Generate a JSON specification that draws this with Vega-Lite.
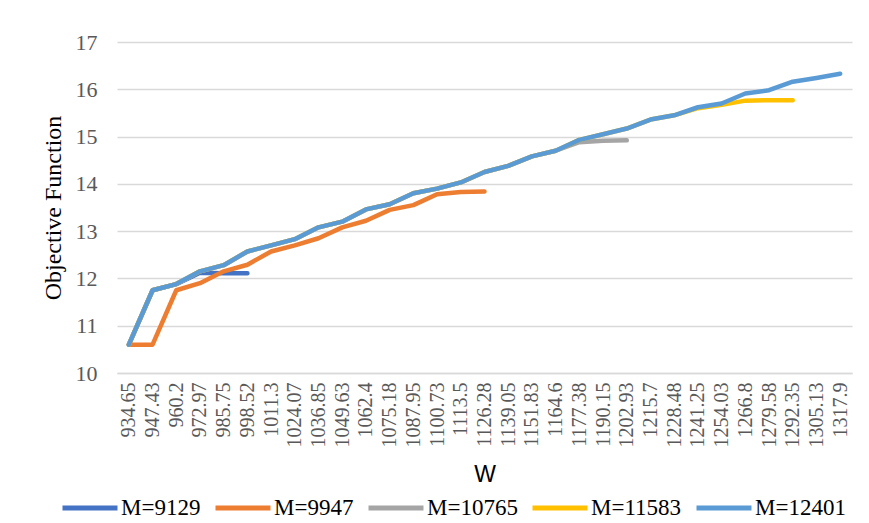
{
  "$schema": "https://vega.github.io/schema/vega-lite/v6.json",
  "width": 735,
  "height": 331,
  "autosize": {"type": "none"},
  "padding": {"left": 117, "top": 42, "right": 17, "bottom": 150},
  "background": "white",
  "config": {"view": {"stroke": null}},
  "data": {"values": [
    {"W": 934.65, "M": "M=9129", "v": 10.6},
    {"W": 947.43, "M": "M=9129", "v": 11.75},
    {"W": 960.2, "M": "M=9129", "v": 11.88},
    {"W": 972.97, "M": "M=9129", "v": 12.12},
    {"W": 985.75, "M": "M=9129", "v": 12.11},
    {"W": 998.52, "M": "M=9129", "v": 12.11},

    {"W": 934.65, "M": "M=9947", "v": 10.6},
    {"W": 947.43, "M": "M=9947", "v": 10.6},
    {"W": 960.2, "M": "M=9947", "v": 11.75},
    {"W": 972.97, "M": "M=9947", "v": 11.9},
    {"W": 985.75, "M": "M=9947", "v": 12.15},
    {"W": 998.52, "M": "M=9947", "v": 12.29},
    {"W": 1011.3, "M": "M=9947", "v": 12.57},
    {"W": 1024.07, "M": "M=9947", "v": 12.7},
    {"W": 1036.85, "M": "M=9947", "v": 12.85},
    {"W": 1049.63, "M": "M=9947", "v": 13.08},
    {"W": 1062.4, "M": "M=9947", "v": 13.22},
    {"W": 1075.18, "M": "M=9947", "v": 13.45},
    {"W": 1087.95, "M": "M=9947", "v": 13.55},
    {"W": 1100.73, "M": "M=9947", "v": 13.78},
    {"W": 1113.5, "M": "M=9947", "v": 13.83},
    {"W": 1126.28, "M": "M=9947", "v": 13.84},

    {"W": 934.65, "M": "M=10765", "v": 10.6},
    {"W": 947.43, "M": "M=10765", "v": 11.75},
    {"W": 960.2, "M": "M=10765", "v": 11.88},
    {"W": 972.97, "M": "M=10765", "v": 12.15},
    {"W": 985.75, "M": "M=10765", "v": 12.28},
    {"W": 998.52, "M": "M=10765", "v": 12.57},
    {"W": 1011.3, "M": "M=10765", "v": 12.7},
    {"W": 1024.07, "M": "M=10765", "v": 12.83},
    {"W": 1036.85, "M": "M=10765", "v": 13.08},
    {"W": 1049.63, "M": "M=10765", "v": 13.2},
    {"W": 1062.4, "M": "M=10765", "v": 13.46},
    {"W": 1075.18, "M": "M=10765", "v": 13.57},
    {"W": 1087.95, "M": "M=10765", "v": 13.8},
    {"W": 1100.73, "M": "M=10765", "v": 13.9},
    {"W": 1113.5, "M": "M=10765", "v": 14.03},
    {"W": 1126.28, "M": "M=10765", "v": 14.25},
    {"W": 1139.05, "M": "M=10765", "v": 14.38},
    {"W": 1151.83, "M": "M=10765", "v": 14.58},
    {"W": 1164.6, "M": "M=10765", "v": 14.7},
    {"W": 1177.38, "M": "M=10765", "v": 14.88},
    {"W": 1190.15, "M": "M=10765", "v": 14.91},
    {"W": 1202.93, "M": "M=10765", "v": 14.92},

    {"W": 934.65, "M": "M=11583", "v": 10.6},
    {"W": 947.43, "M": "M=11583", "v": 11.75},
    {"W": 960.2, "M": "M=11583", "v": 11.88},
    {"W": 972.97, "M": "M=11583", "v": 12.15},
    {"W": 985.75, "M": "M=11583", "v": 12.28},
    {"W": 998.52, "M": "M=11583", "v": 12.57},
    {"W": 1011.3, "M": "M=11583", "v": 12.7},
    {"W": 1024.07, "M": "M=11583", "v": 12.83},
    {"W": 1036.85, "M": "M=11583", "v": 13.08},
    {"W": 1049.63, "M": "M=11583", "v": 13.2},
    {"W": 1062.4, "M": "M=11583", "v": 13.46},
    {"W": 1075.18, "M": "M=11583", "v": 13.57},
    {"W": 1087.95, "M": "M=11583", "v": 13.8},
    {"W": 1100.73, "M": "M=11583", "v": 13.9},
    {"W": 1113.5, "M": "M=11583", "v": 14.03},
    {"W": 1126.28, "M": "M=11583", "v": 14.25},
    {"W": 1139.05, "M": "M=11583", "v": 14.38},
    {"W": 1151.83, "M": "M=11583", "v": 14.58},
    {"W": 1164.6, "M": "M=11583", "v": 14.7},
    {"W": 1177.38, "M": "M=11583", "v": 14.93},
    {"W": 1190.15, "M": "M=11583", "v": 15.05},
    {"W": 1202.93, "M": "M=11583", "v": 15.17},
    {"W": 1215.7, "M": "M=11583", "v": 15.36},
    {"W": 1228.48, "M": "M=11583", "v": 15.45},
    {"W": 1241.25, "M": "M=11583", "v": 15.6},
    {"W": 1254.03, "M": "M=11583", "v": 15.67},
    {"W": 1266.8, "M": "M=11583", "v": 15.76},
    {"W": 1279.58, "M": "M=11583", "v": 15.77},
    {"W": 1292.35, "M": "M=11583", "v": 15.77},

    {"W": 934.65, "M": "M=12401", "v": 10.6},
    {"W": 947.43, "M": "M=12401", "v": 11.75},
    {"W": 960.2, "M": "M=12401", "v": 11.88},
    {"W": 972.97, "M": "M=12401", "v": 12.15},
    {"W": 985.75, "M": "M=12401", "v": 12.28},
    {"W": 998.52, "M": "M=12401", "v": 12.57},
    {"W": 1011.3, "M": "M=12401", "v": 12.7},
    {"W": 1024.07, "M": "M=12401", "v": 12.83},
    {"W": 1036.85, "M": "M=12401", "v": 13.08},
    {"W": 1049.63, "M": "M=12401", "v": 13.2},
    {"W": 1062.4, "M": "M=12401", "v": 13.46},
    {"W": 1075.18, "M": "M=12401", "v": 13.57},
    {"W": 1087.95, "M": "M=12401", "v": 13.8},
    {"W": 1100.73, "M": "M=12401", "v": 13.9},
    {"W": 1113.5, "M": "M=12401", "v": 14.03},
    {"W": 1126.28, "M": "M=12401", "v": 14.25},
    {"W": 1139.05, "M": "M=12401", "v": 14.38},
    {"W": 1151.83, "M": "M=12401", "v": 14.58},
    {"W": 1164.6, "M": "M=12401", "v": 14.7},
    {"W": 1177.38, "M": "M=12401", "v": 14.93},
    {"W": 1190.15, "M": "M=12401", "v": 15.05},
    {"W": 1202.93, "M": "M=12401", "v": 15.17},
    {"W": 1215.7, "M": "M=12401", "v": 15.36},
    {"W": 1228.48, "M": "M=12401", "v": 15.45},
    {"W": 1241.25, "M": "M=12401", "v": 15.62},
    {"W": 1254.03, "M": "M=12401", "v": 15.7},
    {"W": 1266.8, "M": "M=12401", "v": 15.91},
    {"W": 1279.58, "M": "M=12401", "v": 15.98},
    {"W": 1292.35, "M": "M=12401", "v": 16.16},
    {"W": 1305.13, "M": "M=12401", "v": 16.24},
    {"W": 1317.9, "M": "M=12401", "v": 16.33}
  ]},
  "mark": {"type": "line", "strokeWidth": 4.5, "strokeCap": "round", "strokeJoin": "round"},
  "encoding": {
    "x": {
      "field": "W",
      "type": "ordinal",
      "scale": {"type": "point", "padding": 0.5},
      "axis": {
        "title": "W",
        "titleFont": "Liberation Sans",
        "titleFontSize": 23,
        "titleFontWeight": "normal",
        "titleColor": "#000000",
        "titlePadding": 16,
        "labelAngle": -90,
        "labelFont": "Liberation Serif",
        "labelFontSize": 20,
        "labelColor": "#595959",
        "labelPadding": 9,
        "ticks": false,
        "domain": true,
        "domainColor": "#d9d9d9",
        "domainWidth": 1.5,
        "grid": false
      }
    },
    "y": {
      "field": "v",
      "type": "quantitative",
      "scale": {"domain": [10, 17], "nice": false, "zero": false},
      "axis": {
        "title": "Objective Function",
        "titleFont": "Liberation Serif",
        "titleFontSize": 24,
        "titleFontWeight": "normal",
        "titleColor": "#000000",
        "titlePadding": 10,
        "values": [10, 11, 12, 13, 14, 15, 16, 17],
        "labelFont": "Liberation Serif",
        "labelFontSize": 22,
        "labelColor": "#595959",
        "labelPadding": 20,
        "ticks": false,
        "domain": false,
        "grid": true,
        "gridColor": "#d9d9d9",
        "gridWidth": 1.5
      }
    },
    "color": {
      "field": "M",
      "type": "nominal",
      "sort": null,
      "scale": {
        "domain": ["M=9129", "M=9947", "M=10765", "M=11583", "M=12401"],
        "range": ["#4472C4", "#ED7D31", "#A5A5A5", "#FFC000", "#5B9BD5"]
      },
      "legend": {
        "title": null,
        "orient": "none",
        "direction": "horizontal",
        "legendX": -57,
        "legendY": 436,
        "symbolType": "stroke",
        "symbolSize": 3025,
        "symbolStrokeWidth": 5,
        "labelFont": "Liberation Serif",
        "labelFontSize": 23,
        "labelColor": "#000000",
        "labelOffset": 1,
        "columnPadding": 4,
        "labelLimit": 200
      }
    }
  }
}
